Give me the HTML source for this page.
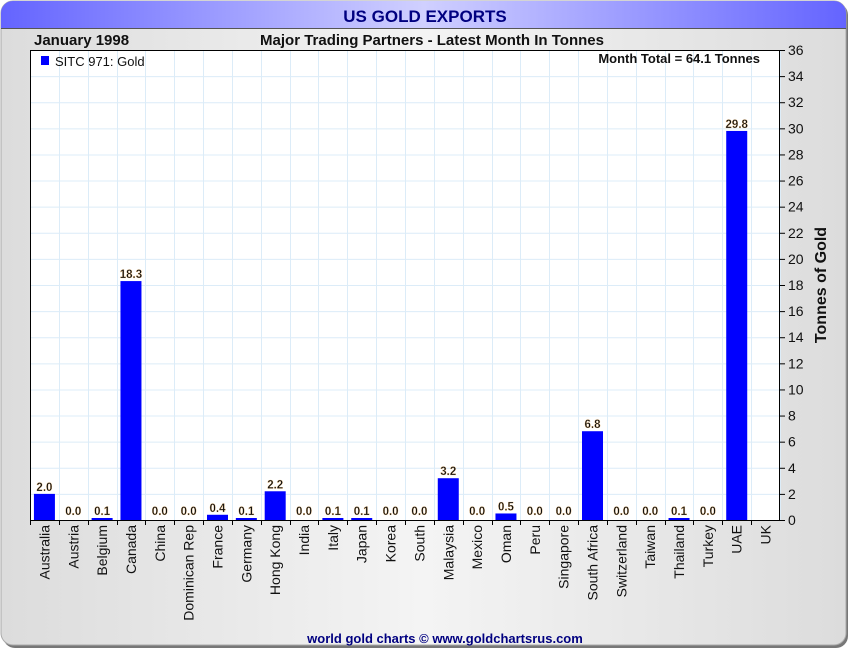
<!DOCTYPE html>
<html><head><meta charset="utf-8"><style>
body{margin:0;width:850px;height:650px;background:#fff;font-family:"Liberation Sans",sans-serif;overflow:hidden}
</style></head><body>
<svg id="chart" width="850" height="650" xmlns="http://www.w3.org/2000/svg">
<defs>
<linearGradient id="tg" x1="0" x2="1"><stop offset="0" stop-color="#6464ff"/><stop offset="0.5" stop-color="#d0d0ff"/><stop offset="1" stop-color="#6464ff"/></linearGradient>
<linearGradient id="bg" x1="0" x2="1"><stop offset="0" stop-color="#dcdcdc"/><stop offset="0.5" stop-color="#f4f4f4"/><stop offset="1" stop-color="#dcdcdc"/></linearGradient>
</defs>
<rect x="3" y="3" width="845" height="645" rx="12" fill="#777"/>
<rect x="1" y="1" width="845" height="644" rx="12" fill="url(#bg)" stroke="#aaa"/>
<path d="M1,28 L1,13 A12,12 0 0 1 13,1 L834,1 A12,12 0 0 1 846,13 L846,28 Z" fill="url(#tg)"/>
<line x1="1" y1="28.5" x2="846" y2="28.5" stroke="#555"/>
<text x="425" y="22" text-anchor="middle" font-size="17" font-weight="bold" fill="#000080">US GOLD EXPORTS</text>
<text x="34" y="45" font-size="15" font-weight="bold" fill="#111">January 1998</text>
<text x="432" y="45" text-anchor="middle" font-size="15" font-weight="bold" fill="#111">Major Trading Partners - Latest Month In Tonnes</text>
<rect x="30" y="50" width="750" height="470" fill="#fff"/>
<g id="grid"></g><g id="bars"></g><g id="xax"></g><g id="yax"></g>
<rect x="30.5" y="50.5" width="749" height="470" fill="none" stroke="#000"/>
<rect x="41" y="56" width="8" height="9" fill="#0000ff"/>
<text x="55" y="66" font-size="13" fill="#111">SITC 971: Gold</text>
<text x="760" y="63" text-anchor="end" font-size="13" font-weight="bold" fill="#111">Month Total = 64.1 Tonnes</text>
<text transform="translate(826,285) rotate(-90)" text-anchor="middle" font-size="16" font-weight="bold" fill="#111">Tonnes of Gold</text>
<text x="445" y="643" text-anchor="middle" font-size="13" font-weight="bold" fill="#000080">world gold charts © www.goldchartsrus.com</text>
</svg>
<script>
const categories=["Australia","Austria","Belgium","Canada","China","Dominican Rep","France","Germany","Hong Kong","India","Italy","Japan","Korea","South","Malaysia","Mexico","Oman","Peru","Singapore","South Africa","Switzerland","Taiwan","Thailand","Turkey","UAE","UK"];
const values=[2.0,0.0,0.1,18.3,0.0,0.0,0.4,0.1,2.2,0.0,0.1,0.1,0.0,0.0,3.2,0.0,0.5,0.0,0.0,6.8,0.0,0.0,0.1,0.0,29.8,null];
const yTicks=[0,2,4,6,8,10,12,14,16,18,20,22,24,26,28,30,32,34,36];
const NS="http://www.w3.org/2000/svg";
const L=30,R=780,T=50,B=520,yMax=36;
const step=(R-L)/categories.length;
const y=v=>B-(v/yMax)*(B-T);
const xc=i=>L+step*(i+0.5);
function mk(tag,attrs,parent,txt){const e=document.createElementNS(NS,tag);for(const k in attrs)e.setAttribute(k,attrs[k]);if(txt!==undefined)e.textContent=txt;parent.appendChild(e);return e;}
const grid=document.getElementById('grid'),bars=document.getElementById('bars'),xax=document.getElementById('xax'),yax=document.getElementById('yax');
yTicks.forEach(t=>{
 const g=mk('line',{x1:L,x2:R,y1:y(t)+0.5,y2:y(t)+0.5,stroke:'#dcecf8'},grid);
 
 
 const tk=mk('line',{x1:R,x2:R+5,y1:y(t)+0.5,y2:y(t)+0.5,stroke:'#000'},yax);
 
 
 const lb=mk('text',{x:R+8,y:y(t)+5,'font-size':14,fill:'#111'},yax,String(t));
 
 
});
categories.forEach((c,i)=>{
 const bx=L+step*(i+1);
 const g=mk('line',{x1:Math.round(bx)+0.5,x2:Math.round(bx)+0.5,y1:T,y2:B,stroke:'#dcecf8'},grid);
 
 
 const tk=mk('line',{x1:Math.round(L+step*i)+0.5,x2:Math.round(L+step*i)+0.5,y1:B,y2:B+5,stroke:'#000'},xax);
 
 
 const cx=xc(i);
 const lb=mk('text',{transform:`translate(${cx+5},${B+5}) rotate(-90)`,'text-anchor':'end','font-size':14,fill:'#111'},xax,c);
 
 
 const v=values[i];
 if(v===null||v===undefined)return;
 const h=B-y(v);
 const r=mk('rect',{x:cx-10.5,y:y(v),width:21,height:Math.max(h,v>0?2:0),fill:'#0000ff'},bars);
 
 
 if(v>0&&h<2)r.setAttribute('y',B-2);
 const vl=mk('text',{x:cx,y:Math.min(y(v),B-2)-3,'text-anchor':'middle','font-size':11.5,'font-weight':'bold',fill:'#111',stroke:'#ffcc88','stroke-width':0.3},bars,v.toFixed(1));
 
 
});
</script>
</body></html>
